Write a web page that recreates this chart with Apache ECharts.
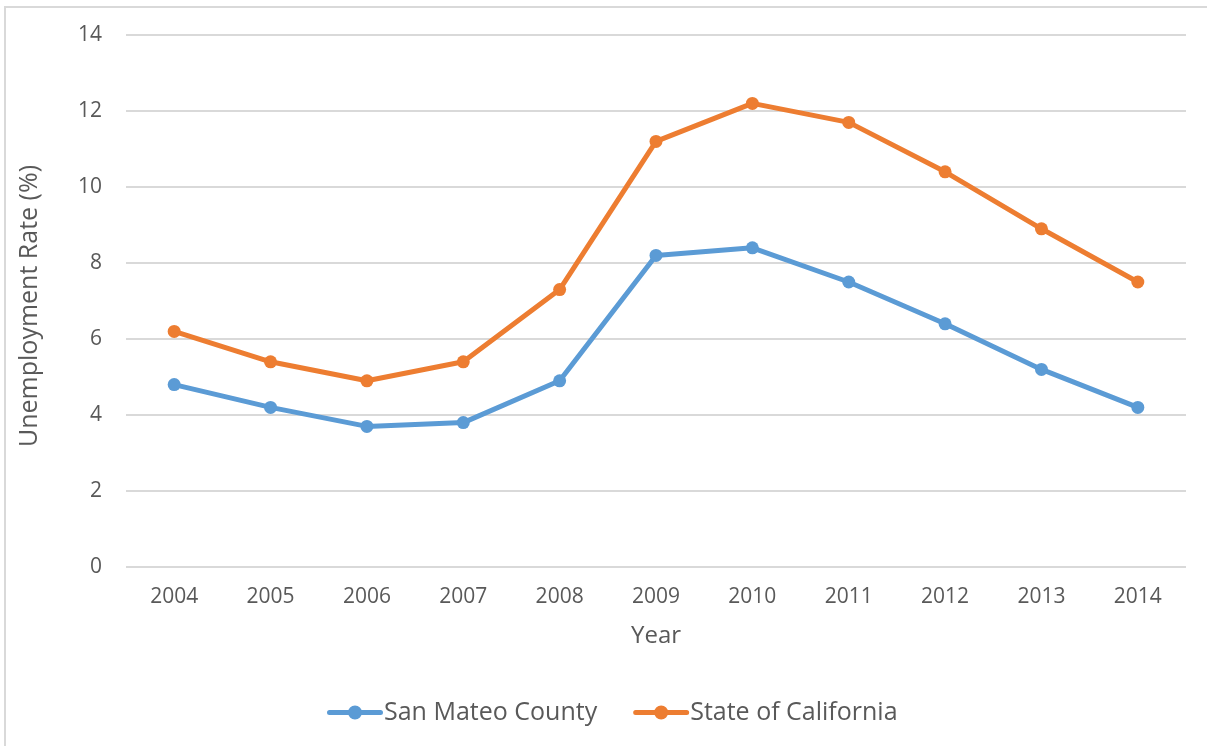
<!DOCTYPE html>
<html>
<head>
<meta charset="utf-8">
<script src="https://cdn.jsdelivr.net/npm/echarts@6/dist/echarts.min.js"></script>
<style>
  html, body { margin: 0; padding: 0; background: #fff; }
  #chart { position: absolute; left: 0; top: 0; width: 1207px; height: 746px; }
  #frame { position: absolute; left: 4px; top: 6px; right: 0; bottom: 0;
           border-left: 2px solid #d9d9d9; border-top: 2px solid #d9d9d9; pointer-events: none; }
</style>
</head>
<body>
<div id="chart"></div>
<div id="frame"></div>
<script>
// values
var years = ['2004', '2005', '2006', '2007', '2008', '2009', '2010', '2011', '2012', '2013', '2014']
var sanMateo = [4.8, 4.2, 3.7, 3.8, 4.9, 8.2, 8.4, 7.5, 6.4, 5.2, 4.2]
var california = [6.2, 5.4, 4.9, 5.4, 7.3, 11.2, 12.2, 11.7, 10.4, 8.9, 7.5]

var textColor = '#595959'
var font = '"Open Sans", sans-serif'

// legend marker: thick rounded line with a dot in the middle (like the Excel legend)
var legendIcon = 'path://M0,7 A2.5,2.5 0 0 1 2.5,4.5 L53.5,4.5 A2.5,2.5 0 0 1 53.5,9.5 L2.5,9.5 A2.5,2.5 0 0 1 0,7 Z ' +
  'M21,7 A7,7 0 1 1 35,7 A7,7 0 1 1 21,7 Z'

function lineSeries(name, data, color) {
  return {
    name: name,
    type: 'line',
    data: data,
    symbol: 'circle',
    symbolSize: 13,
    itemStyle: { color: color },
    lineStyle: { color: color, width: 5 },
    animation: false
  }
}

var chart = echarts.init(document.getElementById('chart'))
chart.setOption({
  textStyle: { fontFamily: font, color: textColor },
  grid: {
    left: 126,
    right: 21,
    top: 35,
    bottom: 179
  },
  legend: {
    bottom: 16,
    left: 322,
    itemWidth: 56,
    itemHeight: 14,
    itemGap: 36,
    icon: legendIcon,
    textStyle: { color: textColor, fontSize: 25, fontFamily: font, padding: [0, 0, 0, -4] },
    data: ['San Mateo County', 'State of California']
  },
  xAxis: {
    type: 'category',
    data: years,
    boundaryGap: true,
    name: 'Year',
    nameLocation: 'middle',
    nameGap: 57,
    nameTextStyle: { color: textColor, fontSize: 24, fontFamily: font },
    axisLine: { show: false },
    axisTick: { show: false },
    axisLabel: { color: textColor, fontSize: 21, margin: 20, fontFamily: font }
  },
  yAxis: {
    type: 'value',
    min: 0,
    max: 14,
    interval: 2,
    name: 'Unemployment Rate (%)',
    nameLocation: 'middle',
    nameGap: 84,
    nameTextStyle: { color: textColor, fontSize: 25, fontFamily: font, padding: [0, 10, 0, 0] },
    axisLine: { show: false },
    axisTick: { show: false },
    axisLabel: { color: textColor, fontSize: 21, margin: 24, fontFamily: font },
    splitLine: { lineStyle: { color: '#d9d9d9', width: 2 } }
  },
  series: [
    lineSeries('San Mateo County', sanMateo, '#5b9bd5'),
    lineSeries('State of California', california, '#ed7d31')
  ]
})
</script>
</body>
</html>
